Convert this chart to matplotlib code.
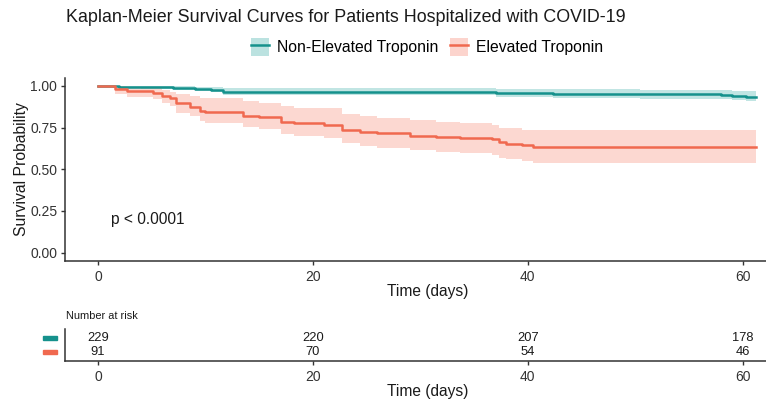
import matplotlib
matplotlib.use("Agg")
import matplotlib.pyplot as plt
import matplotlib.transforms as mtransforms
from matplotlib.patches import Rectangle, Patch
from matplotlib.lines import Line2D

plt.rcParams['font.family'] = ['Liberation Sans', 'DejaVu Sans']

# ---------------- data ----------------
group_names = ["Non-Elevated Troponin", "Elevated Troponin"]

teal_t  = [0, 2, 4, 7, 9, 10.5, 11.6, 37, 42.3, 50.4, 58, 59, 60.3, 61.2]
teal_s  = [1.0, 0.996, 0.991, 0.987, 0.983, 0.978, 0.965, 0.959, 0.954, 0.949, 0.945, 0.941, 0.936, 0.932]
teal_lo = [1.0, 0.988, 0.983, 0.976, 0.970, 0.963, 0.944, 0.936, 0.930, 0.924, 0.920, 0.915, 0.910, 0.905]
teal_hi = [1.0, 1.0, 1.0, 0.998, 0.996, 0.993, 0.986, 0.982, 0.979, 0.976, 0.974, 0.971, 0.969, 0.966]

red_t  = [0, 1.6, 2.7, 5.1, 6.0, 6.7, 7.3, 8.6, 9.5, 10.0, 13.5, 15.0, 17.0, 18.2,
          21.0, 22.7, 24.4, 26.0, 29.0, 31.5, 33.7, 36.7, 37.3, 38.0, 39.5, 40.5, 61.2]
red_s  = [1.0, 0.982, 0.970, 0.960, 0.942, 0.926, 0.896, 0.876, 0.850, 0.842, 0.822, 0.812, 0.786, 0.775,
          0.766, 0.737, 0.723, 0.715, 0.700, 0.693, 0.686, 0.681, 0.665, 0.653, 0.643, 0.631, 0.631]
red_lo = [1.0, 0.95, 0.935, 0.92, 0.90, 0.88, 0.84, 0.82, 0.79, 0.78, 0.755, 0.74, 0.71, 0.70,
          0.686, 0.655, 0.64, 0.63, 0.617, 0.605, 0.595, 0.587, 0.57, 0.56, 0.55, 0.537, 0.537]
red_hi = [1.0, 1.0, 0.995, 0.99, 0.975, 0.965, 0.95, 0.94, 0.93, 0.925, 0.91, 0.90, 0.88, 0.87,
          0.865, 0.83, 0.82, 0.81, 0.796, 0.785, 0.775, 0.766, 0.75, 0.745, 0.737, 0.737, 0.737]

risk_times = [0, 20, 40, 60]
teal_risk = [229, 220, 207, 178]
red_risk = [91, 70, 54, 46]

x_ticks = [0, 20, 40, 60]
y_ticks = [0.0, 0.25, 0.5, 0.75, 1.0]
y_tick_labels = ["0.00", "0.25", "0.50", "0.75", "1.00"]

teal = "#15918C"
red = "#F0694F"
teal_fill = "#8FD0CC"
red_fill = "#FBB8AC"
txt = "#1a1a1a"
spine_c = "#333333"

W, H = 766, 400
fig = plt.figure(figsize=(W / 100, H / 100), dpi=100)

def frac_x(px):
    return px / W

def frac_y(py):
    return 1 - py / H

# main axes: left px 65, right px 790, bottom px 261, top px 77.6
ax = fig.add_axes([frac_x(65), frac_y(261), (790 - 65) / W, (261 - 77.6) / H])
ax.set_xlim(-3.07, 64.4)
ax.set_ylim(-0.05, 1.05)

ax.fill_between(teal_t, teal_lo, teal_hi, step='post', color=teal_fill, alpha=0.55, lw=0)
ax.fill_between(red_t, red_lo, red_hi, step='post', color=red_fill, alpha=0.55, lw=0)
ax.step(teal_t, teal_s, where='post', color=teal, lw=1.8)
ax.step(red_t, red_s, where='post', color=red, lw=1.8)

for s in ['top', 'right']:
    ax.spines[s].set_visible(False)
for s in ['left', 'bottom']:
    ax.spines[s].set_color(spine_c)
    ax.spines[s].set_linewidth(1.1)
ax.set_xticks(x_ticks)
ax.set_yticks(y_ticks)
ax.set_yticklabels(y_tick_labels)
ax.tick_params(axis='both', colors=spine_c, labelcolor="#333333", labelsize=10, length=3, width=1)
ax.tick_params(axis='y', pad=2.5)
ax.set_xlabel("Time (days)", fontsize=11.2, color=txt, labelpad=0)
ax.set_ylabel("Survival Probability", fontsize=11.3, color=txt, labelpad=1)
ax.text(1.2, 0.2, "p < 0.0001", fontsize=11.2, color=txt, va='center', ha='left')

fig.text(frac_x(66), frac_y(18), "Kaplan-Meier Survival Curves for Patients Hospitalized with COVID-19",
         fontsize=12.9, color=txt, va='center', ha='left')

handles = [(Patch(facecolor=teal_fill, alpha=0.6, edgecolor='none'), Line2D([], [], color=teal, lw=1.8)),
           (Patch(facecolor=red_fill, alpha=0.6, edgecolor='none'), Line2D([], [], color=red, lw=1.8))]
fig.legend(handles, group_names, loc='center', bbox_to_anchor=(frac_x(427), frac_y(47)), ncol=2,
           frameon=False, fontsize=11.3, handlelength=1.2, handleheight=1.4, handletextpad=0.5,
           columnspacing=0.7)

# risk table
rax = fig.add_axes([frac_x(65), frac_y(361), (790 - 65) / W, 32 / H])
rax.set_xlim(-3.07, 64.4)
rax.set_ylim(-9 / 14, 1 + 9 / 14)
for t, n in zip(risk_times, teal_risk):
    rax.text(t, 1, str(n), ha='center', va='center', fontsize=9.3, color=txt)
for t, n in zip(risk_times, red_risk):
    rax.text(t, 0, str(n), ha='center', va='center', fontsize=9.3, color=txt)
for s in ['top', 'right']:
    rax.spines[s].set_visible(False)
for s in ['left', 'bottom']:
    rax.spines[s].set_color(spine_c)
    rax.spines[s].set_linewidth(1.1)
rax.set_xticks(x_ticks)
rax.set_yticks([])
rax.tick_params(axis='x', colors=spine_c, labelcolor="#333333", labelsize=10, length=3, width=1)
rax.set_xlabel("Time (days)", fontsize=11.2, color=txt, labelpad=0)
fig.text(frac_x(66), frac_y(316), "Number at risk", fontsize=7.9, color=txt, va='center', ha='left')

btrans = mtransforms.blended_transform_factory(fig.transFigure, rax.transData)
for row, c in [(1, teal), (0, red)]:
    rax.add_patch(Rectangle((frac_x(43), row - 0.17), 14 / W, 0.34, transform=btrans,
                            color=c, clip_on=False))

fig.savefig("out.png", dpi=100)
